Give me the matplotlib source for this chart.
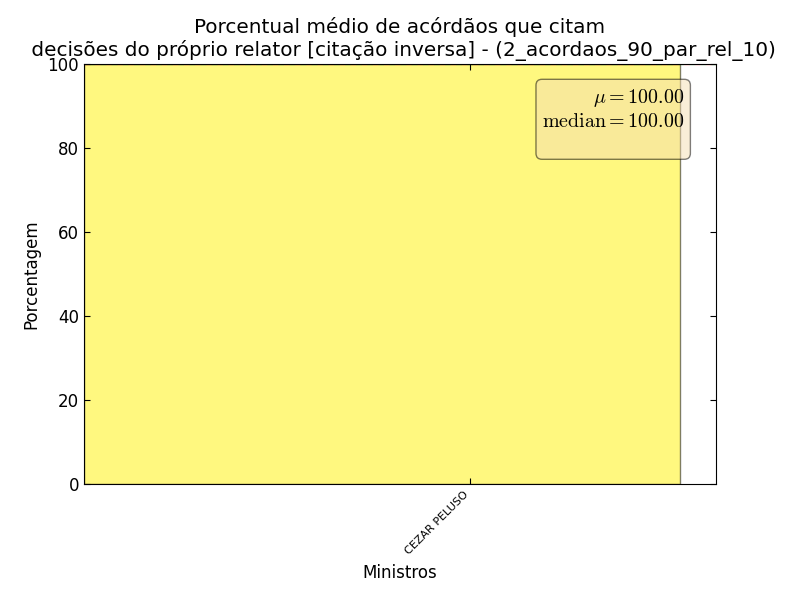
import matplotlib
matplotlib.use("Agg")
import matplotlib.pyplot as plt
import numpy as np

plt.rcParams['mathtext.fontset'] = 'cm'
plt.rcParams['font.family'] = ['DejaVu Sans']

ministros = ["CEZAR PELUSO"]
porcentagens = [100.0]
yticks = [0, 20, 40, 60, 80, 100]

mean_v = float(np.mean(porcentagens))
median_v = float(np.median(porcentagens))

fig = plt.figure(figsize=(8, 6), dpi=100)
ax = fig.add_axes([0.105, 0.193, 0.79, 0.7])

ind = np.arange(len(ministros))
width = 0.8
ax.bar(ind, porcentagens, width, align='edge', color='#fff200', alpha=0.5,
       edgecolor='black', linewidth=1)
ax.axhline(mean_v, color='red', linewidth=1.6, linestyle=(0, (2.5, 2.5)))
ax.axhline(median_v, color='green', linewidth=1.6, linestyle=(2.5, (2.5, 2.5)))

ax.set_xlim(0, 0.848)
ax.set_ylim(0, 100)
ax.set_yticks(yticks)
ax.set_xticks(ind + 0.518)
ax.set_xticklabels(ministros, rotation=45, ha='right', fontsize=8)
ax.tick_params(direction='in', top=True, right=True, labelsize=12, length=4)
ax.tick_params(axis='x', labelsize=8)

ax.set_xlabel("Ministros", fontsize=12, labelpad=6)
ax.set_ylabel("Porcentagem", fontsize=12, labelpad=5)
ax.set_title("Porcentual médio de acórdãos que citam\n decisões do próprio relator [citação inversa] - (2_acordaos_90_par_rel_10)",
             fontsize=14.4)

txt = "$\\mu=%.2f$\n$\\mathrm{median}=%.2f$\n " % (mean_v, median_v)
ax.text(0.95, 0.945, txt, transform=ax.transAxes, fontsize=14.4,
        va='top', ha='right', linespacing=1.2,
        bbox=dict(boxstyle='round', facecolor='wheat', alpha=0.5))

fig.savefig("out.png", dpi=100)
